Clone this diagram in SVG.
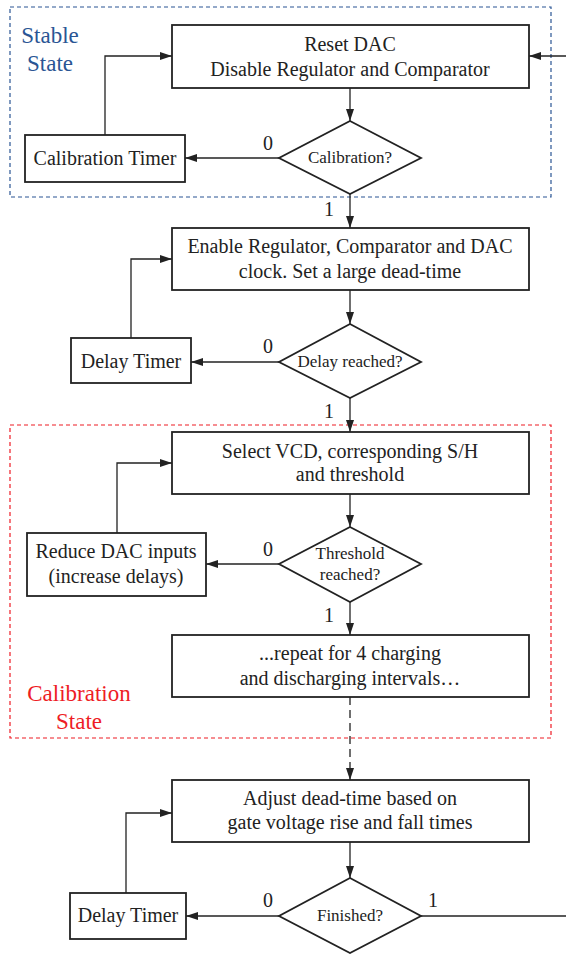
<svg xmlns="http://www.w3.org/2000/svg" width="566" height="954" viewBox="0 0 566 954">
<style>
  .box{fill:#fff;stroke:#222;stroke-width:1.8}
  .dia{fill:#fff;stroke:#222;stroke-width:1.8}
  .t{font-family:"Liberation Serif","Times New Roman",serif;font-size:20px;fill:#222;text-anchor:middle}
  .d{font-family:"Liberation Serif","Times New Roman",serif;font-size:17px;fill:#222;text-anchor:middle}
  .lbl{font-family:"Liberation Serif","Times New Roman",serif;font-size:20px;fill:#222;text-anchor:middle}
  .c{fill:none;stroke:#222;stroke-width:1.3}
  .blue{font-family:"Liberation Serif","Times New Roman",serif;font-size:23px;fill:#2a5594;text-anchor:middle}
  .red{font-family:"Liberation Serif","Times New Roman",serif;font-size:23px;fill:#ee1c25;text-anchor:middle}
</style>
<defs>
  <marker id="ah" viewBox="0 0 12 8" refX="12" refY="4" markerWidth="12" markerHeight="8" markerUnits="userSpaceOnUse" orient="auto">
    <path d="M0,0 L12,4 L0,8 Z" fill="#222"/>
  </marker>
</defs>
<rect width="566" height="954" fill="#fff"/>

<g id="stable-state">
  <rect x="10" y="7" width="541" height="190" fill="none" stroke="#2a5594" stroke-width="1.2" stroke-dasharray="4,3"/>
  <text class="blue" x="50" y="43">Stable</text>
  <text class="blue" x="50" y="71">State</text>
</g>
<g id="calibration-state">
  <rect x="10" y="425" width="541" height="313" fill="none" stroke="#ee1c25" stroke-width="1.2" stroke-dasharray="4,3"/>
  <text class="red" x="79" y="701">Calibration</text>
  <text class="red" x="79" y="729">State</text>
</g>

<g id="connectors">
  <path class="c" d="M566,56 L529,56" marker-end="url(#ah)"/>
  <path class="c" d="M350,88 L350,121" marker-end="url(#ah)"/>
  <path class="c" d="M279,158 L185,158" marker-end="url(#ah)"/>
  <path class="c" d="M105,135 L105,56 L172,56" marker-end="url(#ah)"/>
  <path class="c" d="M350,194 L350,228" marker-end="url(#ah)"/>
  <path class="c" d="M350,290 L350,324" marker-end="url(#ah)"/>
  <path class="c" d="M279,362 L191,362" marker-end="url(#ah)"/>
  <path class="c" d="M131,338 L131,259 L172,259" marker-end="url(#ah)"/>
  <path class="c" d="M350,398 L350,432" marker-end="url(#ah)"/>
  <path class="c" d="M350,494 L350,527" marker-end="url(#ah)"/>
  <path class="c" d="M279,564 L206,564" marker-end="url(#ah)"/>
  <path class="c" d="M117,533 L117,463 L172,463" marker-end="url(#ah)"/>
  <path class="c" d="M350,602 L350,635" marker-end="url(#ah)"/>
  <path class="c" d="M350,697 L350,780" stroke-dasharray="8,5" marker-end="url(#ah)"/>
  <path class="c" d="M350,842 L350,878" marker-end="url(#ah)"/>
  <path class="c" d="M279,916 L186,916" marker-end="url(#ah)"/>
  <path class="c" d="M126,893 L126,813 L172,813" marker-end="url(#ah)"/>
  <path class="c" d="M421,916 L566,916"/>
  <text class="lbl" x="268" y="150">0</text>
  <text class="lbl" x="329" y="216">1</text>
  <text class="lbl" x="268" y="353">0</text>
  <text class="lbl" x="329" y="418">1</text>
  <text class="lbl" x="268" y="556">0</text>
  <text class="lbl" x="329" y="622">1</text>
  <text class="lbl" x="268" y="907">0</text>
  <text class="lbl" x="433" y="907">1</text>
</g>

<g id="reset-dac">
  <rect class="box" x="172" y="25" width="357" height="63"/>
  <text class="t" x="350" y="51">Reset DAC</text>
  <text class="t" x="350" y="76">Disable Regulator and Comparator</text>
</g>
<g id="calibration-decision">
  <polygon class="dia" points="350,121 421,158 350,194 279,158"/>
  <text class="d" x="350" y="163">Calibration?</text>
</g>
<g id="calibration-timer">
  <rect class="box" x="25" y="135" width="160" height="47"/>
  <text class="t" x="105" y="165">Calibration Timer</text>
</g>
<g id="enable-regulator">
  <rect class="box" x="172" y="228" width="357" height="62"/>
  <text class="t" x="350" y="253">Enable Regulator, Comparator and DAC</text>
  <text class="t" x="350" y="278">clock. Set a large dead-time</text>
</g>
<g id="delay-decision">
  <polygon class="dia" points="350,324 421,362 350,398 279,362"/>
  <text class="d" x="350" y="367">Delay reached?</text>
</g>
<g id="delay-timer-1">
  <rect class="box" x="71" y="338" width="120" height="45"/>
  <text class="t" x="131" y="368">Delay Timer</text>
</g>
<g id="select-vcd">
  <rect class="box" x="172" y="432" width="357" height="62"/>
  <text class="t" x="350" y="458">Select VCD, corresponding S/H</text>
  <text class="t" x="350" y="481">and threshold</text>
</g>
<g id="threshold-decision">
  <polygon class="dia" points="350,527 421,564 350,602 279,564"/>
  <text class="d" x="350" y="559">Threshold</text>
  <text class="d" x="350" y="580">reached?</text>
</g>
<g id="reduce-dac">
  <rect class="box" x="27" y="533" width="179" height="63"/>
  <text class="t" x="116" y="558">Reduce DAC inputs</text>
  <text class="t" x="116" y="583">(increase delays)</text>
</g>
<g id="repeat">
  <rect class="box" x="172" y="635" width="357" height="62"/>
  <text class="t" x="350" y="660">...repeat for 4 charging</text>
  <text class="t" x="350" y="685">and discharging intervals…</text>
</g>
<g id="adjust-dead-time">
  <rect class="box" x="172" y="780" width="357" height="62"/>
  <text class="t" x="350" y="805">Adjust dead-time based on</text>
  <text class="t" x="350" y="829">gate voltage rise and fall times</text>
</g>
<g id="finished-decision">
  <polygon class="dia" points="350,878 421,916 350,953 279,916"/>
  <text class="d" x="350" y="921">Finished?</text>
</g>
<g id="delay-timer-2">
  <rect class="box" x="70" y="893" width="116" height="46"/>
  <text class="t" x="128" y="922">Delay Timer</text>
</g>
</svg>
